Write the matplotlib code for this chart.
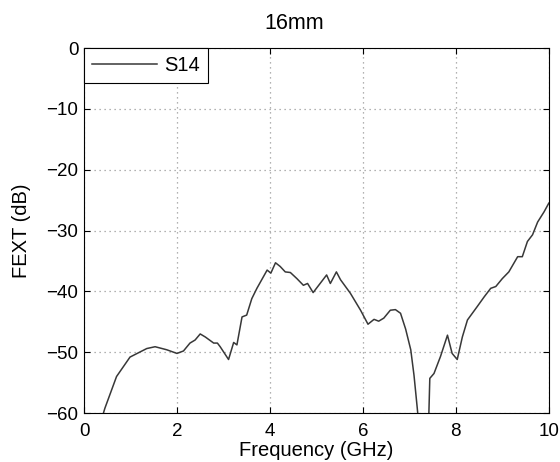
import matplotlib
matplotlib.use("Agg")
import matplotlib.pyplot as plt

plt.rcParams['font.family'] = ['Liberation Sans', 'DejaVu Sans']

# Frequency (GHz) and far-end crosstalk (dB)
freq = [0.30, 0.45, 0.70, 0.99, 1.35, 1.53, 1.78, 2.00, 2.14, 2.28, 2.39, 2.50,
        2.61, 2.79, 2.87, 2.93, 3.11, 3.22, 3.29, 3.40, 3.50, 3.61, 3.72, 3.83,
        3.94, 4.02, 4.12, 4.22, 4.33, 4.44, 4.58, 4.72, 4.81, 4.93, 5.05, 5.22,
        5.30, 5.43, 5.52, 5.73, 5.95, 6.11, 6.24, 6.34, 6.45, 6.59, 6.70, 6.81,
        6.92, 7.03, 7.10, 7.17, 7.30, 7.42, 7.44, 7.53, 7.67, 7.82, 7.92, 8.03,
        8.14, 8.25, 8.46, 8.61, 8.75, 8.86, 9.00, 9.14, 9.33, 9.43, 9.54, 9.65,
        9.76, 9.90, 10.0]
fext = [-63.0, -59.2, -54.0, -50.8, -49.4, -49.1, -49.6, -50.2, -49.8, -48.5, -48.0, -47.0,
        -47.5, -48.5, -48.5, -49.1, -51.2, -48.4, -48.8, -44.2, -43.9, -41.2, -39.5, -38.0,
        -36.5, -37.0, -35.3, -35.9, -36.8, -36.9, -37.9, -39.0, -38.7, -40.2, -39.0, -37.3,
        -38.7, -36.8, -38.1, -40.3, -43.1, -45.4, -44.6, -44.9, -44.4, -43.1, -43.0, -43.6,
        -46.2, -49.6, -53.8, -59.2, -70.0, -60.0, -54.3, -53.5, -50.7, -47.2, -50.2, -51.2,
        -47.5, -44.7, -42.5, -40.9, -39.5, -39.2, -37.9, -36.8, -34.3, -34.3, -31.8, -30.7,
        -28.6, -26.9, -25.5]

xticks = [0, 2, 4, 6, 8, 10]
yticks = [0, -10, -20, -30, -40, -50, -60]

fig = plt.figure(figsize=(5.6, 4.62), dpi=100)
ax = fig.add_axes([0.15, 0.106, 0.83, 0.79])

ax.plot(freq, fext, color='#383838', linewidth=1.1, label='S14')

ax.set_xlim(0, 10)
ax.set_ylim(-60, 0)
ax.set_xticks(xticks)
ax.set_yticks(yticks)
ax.set_yticklabels(['0', '\u221210', '\u221220', '\u221230', '\u221240', '\u221250', '\u221260'])
ax.tick_params(direction='in', top=True, right=True, labelsize=13.5, length=4, width=0.8)
ax.tick_params(axis='x', pad=7)
ax.tick_params(axis='y', pad=4)
ax.grid(True, linestyle=(0, (1, 3)), color='#999999', linewidth=0.9)
for s in ax.spines.values():
    s.set_linewidth(0.8)

ax.set_xlabel('Frequency (GHz)', fontsize=14.5, labelpad=1)
ax.set_ylabel('FEXT (dB)', fontsize=14.5, labelpad=11)
ax.set_title('16mm', fontsize=15.5, pad=14, x=(294 - 84) / 465)

leg = ax.legend(loc='upper left', borderaxespad=0, fontsize=14.5, fancybox=False,
                framealpha=1, edgecolor='black', handlelength=3.2, borderpad=0.4,
                handletextpad=0.4)
leg.get_frame().set_linewidth(0.8)

fig.savefig('out.png', dpi=100)
